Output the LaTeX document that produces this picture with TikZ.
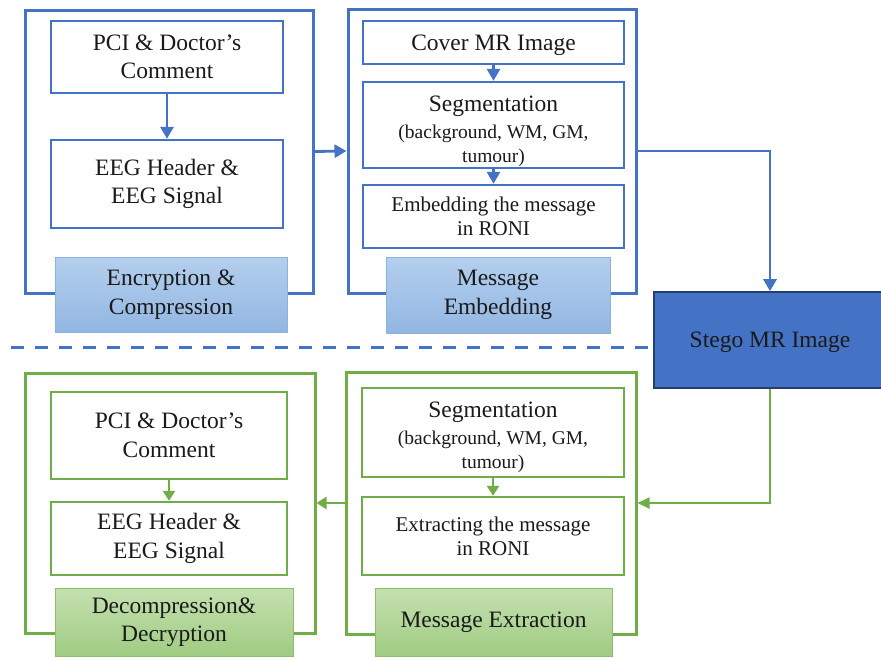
\documentclass[tikz,border=0pt]{standalone}
\usepackage{fontspec}
\setmainfont{Liberation Serif}
\usetikzlibrary{arrows.meta}
\definecolor{blu}{HTML}{4472C4}
\definecolor{grn}{HTML}{70AD47}
\definecolor{bluLabTop}{HTML}{B4CFEE}
\definecolor{bluLabBot}{HTML}{92B6E2}
\definecolor{bluLabDraw}{HTML}{8EB2DE}
\definecolor{grnLabTop}{HTML}{C4E0B0}
\definecolor{grnLabBot}{HTML}{A0CC82}
\definecolor{grnLabDraw}{HTML}{8CBE6C}
\definecolor{stegoDraw}{HTML}{24406F}
\definecolor{txt}{HTML}{1A1A1A}
\newcommand{\segtext}{Segmentation\\[-2pt]{\fontsize{19.5}{23}\selectfont (background, WM, GM,}\\[-4.5pt]{\fontsize{19.5}{23}\selectfont tumour)}}
\begin{document}
\begin{tikzpicture}[x=1pt,y=-1pt,
  every node/.style={font=\fontsize{23.5}{28.5}\selectfont, text=txt, align=center, inner sep=0pt},
  outerB/.style={draw=blu, line width=3pt, rectangle},
  innerB/.style={draw=blu, line width=2.4pt, fill=white, rectangle},
  outerG/.style={draw=grn, line width=3pt, rectangle},
  innerG/.style={draw=grn, line width=2.4pt, fill=white, rectangle},
  labB/.style={draw=bluLabDraw, line width=1pt, top color=bluLabTop, bottom color=bluLabBot, rectangle},
  labG/.style={draw=grnLabDraw, line width=1pt, top color=grnLabTop, bottom color=grnLabBot, rectangle},
  mid/.style={font=\fontsize{21}{23.5}\selectfont},
  arrB/.style={draw=blu, line width=2.8pt, -{Triangle[width=13pt,length=12pt]}},
  arrG/.style={draw=grn, line width=2.4pt, -{Triangle[width=12pt,length=10pt]}},
  arrGthin/.style={draw=grn, line width=1.8pt, -{Triangle[width=11pt,length=12pt]}}
]
\useasboundingbox (0,0) rectangle (881,657);
\fill[white] (0,0) rectangle (881,657);

% ---------- top left ----------
\node[outerB, minimum width=288, minimum height=283] (encO) at (169,151.5) {};
\node[innerB, minimum width=232, minimum height=72] (pci1) at (167,57) {PCI \& Doctor’s\\Comment};
\node[innerB, minimum width=232, minimum height=88] (eeg1) at (167,184) {EEG Header \&\\EEG Signal};
\node[labB, minimum width=232, minimum height=75] (encL) at (171,294.5) {Encryption \&\\Compression};

% ---------- top middle ----------
\node[outerB, minimum width=288, minimum height=284] (embO) at (492,151) {};
\node[innerB, minimum width=261, minimum height=43, text depth=0pt] (cover) at (493.5,42.5) {Cover MR Image};
\node[innerB, minimum width=261, minimum height=86] (seg1) at (493.5,125) {};
\node (seg1t) at ([yshift=-6.5pt]seg1.center) {\segtext};
\node[innerB, minimum width=261, minimum height=63, mid] (emb) at (493.5,216.5) {Embedding the message\\in RONI};
\node[labB, minimum width=224, minimum height=76] (embL) at (498,295) {Message\\Embedding};

% ---------- stego ----------
\node[draw=stegoDraw, line width=1.6pt, fill=blu, minimum width=232, minimum height=96, rectangle, text=txt, text depth=0pt] (stego) at (770,340) {Stego MR Image};
\draw[blu, line width=3pt, dash pattern=on 13pt off 11pt] (11,347) -- (648,347);

% ---------- bottom left ----------
\node[outerG, minimum width=290, minimum height=260] (decO) at (170,503) {};
\node[innerG, minimum width=236, minimum height=87] (pci2) at (169,435.5) {PCI \& Doctor’s\\Comment};
\node[innerG, minimum width=236, minimum height=73] (eeg2) at (169,538.5) {EEG Header \&\\EEG Signal};
\node[labG, minimum width=238, minimum height=68] (decL) at (174,622) {Decompression\&\\Decryption};

% ---------- bottom middle ----------
\node[outerG, minimum width=290, minimum height=262] (extO) at (491,503) {};
\node[innerG, minimum width=262, minimum height=89] (seg2) at (493,432.5) {};
\node (seg2t) at ([yshift=-5pt]seg2.center) {\segtext};
\node[innerG, minimum width=262, minimum height=78, mid, text depth=0pt] (ext) at (493,536) {Extracting the message\\in RONI};
\node[labG, minimum width=237, minimum height=68] (extL) at (493.5,622) {Message Extraction};

% ---------- arrows ----------
\draw[arrB] (pci1.south) -- (pci1.south |- eeg1.north);
\draw[arrB] (encO.east) -- (embO.west);
\draw[arrB] (cover.south) -- (seg1.north);
\draw[arrB] (seg1.south) -- (emb.north);
\draw[arrB] (embO.east) -| (stego.north);

\draw[arrG] (pci2.south) -- (eeg2.north);
\draw[arrG] (seg2.south) -- (ext.north);
\draw[arrGthin] (stego.south) |- (extO.east);
\draw[arrG] (extO.west) -- (decO.east);
\end{tikzpicture}
\end{document}
